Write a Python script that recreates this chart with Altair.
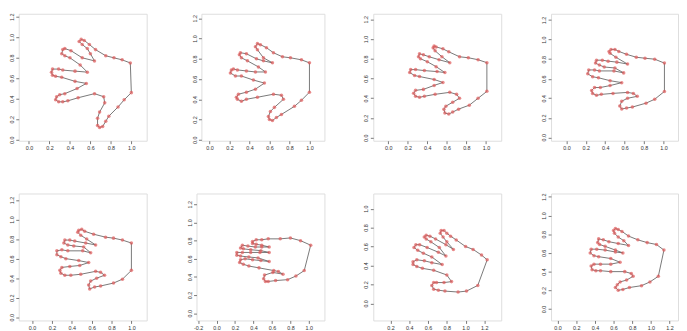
import altair as alt
import pandas as pd

# ---- landmark coordinates (one closed outline per hand) ----
h1_x = [1.00,0.93,0.87,0.78,0.75,0.72,0.69,0.67,0.67,0.69,0.74,0.73,0.64,
        0.48,0.38,0.33,0.29,0.26,0.27,0.30,0.35,0.47,0.56,
        0.45,0.32,0.26,0.23,0.22,0.23,0.29,0.33,0.45,0.57,
        0.50,0.40,0.35,0.32,0.33,0.35,0.41,0.52,0.64,
        0.60,0.57,0.52,0.49,0.51,0.54,0.59,0.65,0.75,0.83,0.91,0.99]
h1_y = [0.46,0.39,0.32,0.23,0.18,0.13,0.12,0.14,0.21,0.27,0.36,0.42,0.45,
        0.41,0.38,0.37,0.37,0.39,0.42,0.44,0.45,0.50,0.55,
        0.57,0.61,0.62,0.63,0.66,0.69,0.69,0.68,0.67,0.66,
        0.73,0.80,0.82,0.84,0.88,0.89,0.87,0.80,0.77,
        0.84,0.89,0.93,0.96,0.98,0.97,0.93,0.88,0.82,0.80,0.78,0.75]

h2_x = [1.00,0.92,0.85,0.72,0.67,0.63,0.60,0.59,0.61,0.65,0.74,0.72,0.64,
        0.48,0.37,0.32,0.28,0.27,0.29,0.37,0.46,0.55,
        0.44,0.32,0.26,0.21,0.22,0.24,0.28,0.37,0.46,0.56,
        0.49,0.38,0.32,0.30,0.31,0.37,0.47,0.54,0.63,
        0.54,0.48,0.46,0.48,0.51,0.57,0.64,0.73,0.81,0.92,1.00]
h2_y = [0.47,0.39,0.33,0.25,0.22,0.19,0.20,0.23,0.28,0.32,0.40,0.44,0.45,
        0.42,0.40,0.38,0.40,0.42,0.45,0.47,0.50,0.56,
        0.59,0.63,0.63,0.66,0.69,0.70,0.69,0.68,0.67,0.67,
        0.72,0.78,0.81,0.84,0.86,0.85,0.80,0.78,0.76,
        0.81,0.89,0.92,0.95,0.94,0.91,0.86,0.82,0.81,0.79,0.76]

h3_x = [1.01,0.92,0.83,0.72,0.66,0.62,0.58,0.57,0.59,0.66,0.73,0.70,0.63,
        0.48,0.37,0.32,0.28,0.26,0.28,0.36,0.47,0.56,
        0.47,0.32,0.27,0.22,0.23,0.28,0.37,0.50,0.58,
        0.49,0.40,0.33,0.31,0.32,0.36,0.42,0.52,0.63,
        0.55,0.48,0.46,0.47,0.49,0.56,0.62,0.73,0.82,0.92,1.01]
h3_y = [0.47,0.40,0.33,0.29,0.26,0.24,0.25,0.29,0.32,0.36,0.40,0.44,0.46,
        0.44,0.42,0.41,0.42,0.45,0.48,0.49,0.53,0.56,
        0.59,0.62,0.63,0.66,0.69,0.69,0.68,0.67,0.66,
        0.72,0.77,0.80,0.82,0.85,0.84,0.82,0.79,0.76,
        0.82,0.88,0.91,0.93,0.92,0.90,0.87,0.82,0.81,0.79,0.76]

h4_x = [1.01,0.91,0.82,0.68,0.62,0.57,0.55,0.57,0.63,0.73,0.69,0.63,
        0.48,0.36,0.31,0.27,0.26,0.29,0.35,0.45,0.57,
        0.45,0.33,0.27,0.22,0.23,0.29,0.34,0.49,0.59,
        0.50,0.39,0.34,0.30,0.31,0.37,0.43,0.52,0.63,
        0.51,0.45,0.44,0.46,0.50,0.54,0.62,0.72,0.81,0.91,1.01]
h4_y = [0.47,0.39,0.35,0.31,0.30,0.29,0.32,0.37,0.40,0.42,0.45,0.46,
        0.45,0.44,0.43,0.45,0.48,0.51,0.51,0.53,0.56,
        0.58,0.61,0.62,0.65,0.69,0.69,0.68,0.68,0.66,
        0.71,0.72,0.74,0.76,0.79,0.79,0.78,0.77,0.75,
        0.82,0.86,0.88,0.90,0.90,0.88,0.85,0.82,0.81,0.80,0.76]

h5_x = [1.00,0.91,0.82,0.69,0.63,0.58,0.57,0.59,0.65,0.73,0.69,0.64,
        0.49,0.39,0.33,0.29,0.28,0.30,0.38,0.48,0.57,
        0.47,0.34,0.29,0.25,0.25,0.30,0.36,0.51,0.59,
        0.52,0.42,0.36,0.32,0.33,0.38,0.43,0.54,0.64,
        0.55,0.49,0.46,0.47,0.50,0.53,0.62,0.74,0.82,0.91,1.00]
h5_y = [0.48,0.39,0.35,0.32,0.31,0.29,0.33,0.37,0.40,0.43,0.46,0.47,
        0.44,0.43,0.43,0.45,0.48,0.51,0.52,0.53,0.56,
        0.58,0.60,0.62,0.64,0.68,0.69,0.68,0.68,0.66,
        0.72,0.73,0.74,0.76,0.79,0.79,0.78,0.76,0.74,
        0.80,0.84,0.87,0.89,0.90,0.88,0.85,0.82,0.81,0.79,0.76]

h6_x = [0.95,0.86,0.77,0.64,0.56,0.53,0.51,0.52,0.61,0.72,0.67,0.62,
        0.46,0.35,0.29,0.25,0.26,0.31,0.39,0.48,0.57,
        0.45,0.35,0.26,0.22,0.22,0.28,0.37,0.47,0.57,
        0.48,0.37,0.29,0.26,0.28,0.34,0.42,0.49,0.57,
        0.49,0.43,0.39,0.39,0.43,0.49,0.56,0.69,0.80,0.91,1.02]
h6_y = [0.47,0.41,0.37,0.36,0.35,0.35,0.38,0.42,0.45,0.43,0.46,0.47,
        0.50,0.52,0.54,0.56,0.59,0.60,0.59,0.58,0.57,
        0.61,0.62,0.63,0.64,0.67,0.67,0.67,0.67,0.67,
        0.69,0.70,0.71,0.72,0.75,0.74,0.73,0.73,0.73,
        0.75,0.76,0.77,0.79,0.81,0.81,0.82,0.82,0.83,0.80,0.75]

h7_x = [1.13,1.01,0.92,0.78,0.71,0.66,0.64,0.66,0.69,0.77,0.85,0.80,
        0.66,0.54,0.48,0.44,0.44,0.48,0.56,0.64,0.75,
        0.64,0.55,0.49,0.45,0.47,0.51,0.59,0.71,0.79,
        0.72,0.63,0.58,0.56,0.58,0.62,0.68,0.79,0.87,
        0.80,0.76,0.73,0.74,0.77,0.80,0.84,0.90,1.00,1.08,1.17,1.23]
h7_y = [0.19,0.13,0.12,0.13,0.14,0.15,0.19,0.22,0.22,0.22,0.23,0.30,
        0.35,0.37,0.39,0.41,0.44,0.46,0.45,0.43,0.41,
        0.49,0.53,0.56,0.59,0.62,0.62,0.59,0.54,0.50,
        0.59,0.65,0.68,0.70,0.72,0.71,0.68,0.62,0.57,
        0.65,0.70,0.74,0.77,0.77,0.74,0.71,0.67,0.60,0.57,0.51,0.46]

h8_x = [1.08,0.99,0.90,0.77,0.70,0.65,0.62,0.64,0.67,0.74,0.81,0.79,0.72,
        0.57,0.46,0.41,0.37,0.36,0.39,0.46,0.57,0.67,
        0.57,0.44,0.39,0.35,0.36,0.42,0.51,0.62,0.70,
        0.62,0.51,0.45,0.43,0.44,0.49,0.55,0.65,0.76,
        0.71,0.65,0.61,0.60,0.62,0.65,0.69,0.76,0.86,0.96,1.06,1.14]
h8_y = [0.35,0.29,0.25,0.23,0.21,0.20,0.23,0.26,0.29,0.31,0.35,0.38,0.40,
        0.40,0.41,0.41,0.42,0.46,0.48,0.48,0.48,0.50,
        0.54,0.56,0.57,0.60,0.64,0.64,0.63,0.61,0.60,
        0.63,0.67,0.69,0.71,0.75,0.74,0.72,0.70,0.68,
        0.73,0.77,0.81,0.84,0.86,0.85,0.83,0.78,0.74,0.71,0.69,0.63]

hands = [(h1_x, h1_y), (h2_x, h2_y), (h3_x, h3_y), (h4_x, h4_y),
         (h5_x, h5_y), (h6_x, h6_y), (h7_x, h7_y), (h8_x, h8_y)]

# axis ranges and tick labels per panel
x_domains = [[-0.10, 1.15], [-0.08, 1.15], [-0.153, 1.157], [-0.158, 1.15],
             [-0.134, 1.154], [-0.217, 1.169], [0.016, 1.38], [-0.07, 1.291]]
y_domains = [[-0.01, 1.23], [-0.01, 1.245], [-0.03, 1.255], [-0.035, 1.265],
             [-0.033, 1.267], [-0.08, 1.32], [-0.18, 1.16], [-0.122, 1.235]]
x_ticks = [[0.0, 0.2, 0.4, 0.6, 0.8, 1.0]] * 5 + [[-0.2, 0.0, 0.2, 0.4, 0.6, 0.8, 1.0],
           [0.2, 0.4, 0.6, 0.8, 1.0, 1.2], [0.0, 0.2, 0.4, 0.6, 0.8, 1.0, 1.2]]
y_ticks = [[0.0, 0.2, 0.4, 0.6, 0.8, 1.0, 1.2]] * 6 + [[0.0, 0.2, 0.4, 0.6, 0.8, 1.0],
           [0.0, 0.2, 0.4, 0.6, 0.8, 1.0, 1.2]]
widths = [131, 126, 131, 130, 131, 131, 131, 130]
y_extents = [10, 16, 10, 11, 10, 11, 10, 11]

LBL = "(datum.value < 0 ? '-' : '') + format(abs(datum.value), '.1f')"
FONT = "Liberation Sans"


def panel(k):
    hx, hy = hands[k]
    n = len(hx)
    df = pd.DataFrame({"i": list(range(n + 1)),
                       "x": hx + [hx[0]],
                       "y": hy + [hy[0]]})
    xax = alt.Axis(values=x_ticks[k], title=None, grid=False, domain=False,
                   tickSize=3, tickColor="#777", labelFontSize=5.5, labelFont=FONT,
                   labelColor="#333", labelPadding=2, labelExpr=LBL, labelFlush=False,
                   labelOverlap=False, minExtent=12, maxExtent=12)
    yax = alt.Axis(values=y_ticks[k], title=None, grid=False, domain=False,
                   tickSize=3, tickColor="#777", labelFontSize=5.5, labelFont=FONT,
                   labelColor="#333", labelPadding=1.5, labelExpr=LBL, labelAngle=270,
                   labelAlign="center", labelBaseline="bottom", labelFlush=False,
                   labelOverlap=False, minExtent=y_extents[k])
    X = alt.X("x:Q", scale=alt.Scale(domain=x_domains[k], nice=False, zero=False), axis=xax)
    Y = alt.Y("y:Q", scale=alt.Scale(domain=y_domains[k], nice=False, zero=False), axis=yax)
    base = alt.Chart(df)
    line = base.mark_line(color="#555", strokeWidth=0.8).encode(x=X, y=Y, order="i:Q")
    pts = base.transform_filter(alt.datum.i < n).mark_point(
        filled=True, shape="circle", size=13, color="#e05a5a", opacity=0.7
    ).encode(x=X, y=Y)
    return alt.layer(line, pts).properties(width=widths[k], height=130)


top = alt.hconcat(*[panel(k) for k in range(4)], spacing=38)
bottom = alt.hconcat(*[panel(k) for k in range(4, 8)], spacing=38)
chart = alt.vconcat(top, bottom, spacing=40).properties(padding=0).configure_view(
    stroke="#999", strokeWidth=1
).configure(background="white")

chart.save("out.html", embed_options={"renderer": "svg", "actions": False})
